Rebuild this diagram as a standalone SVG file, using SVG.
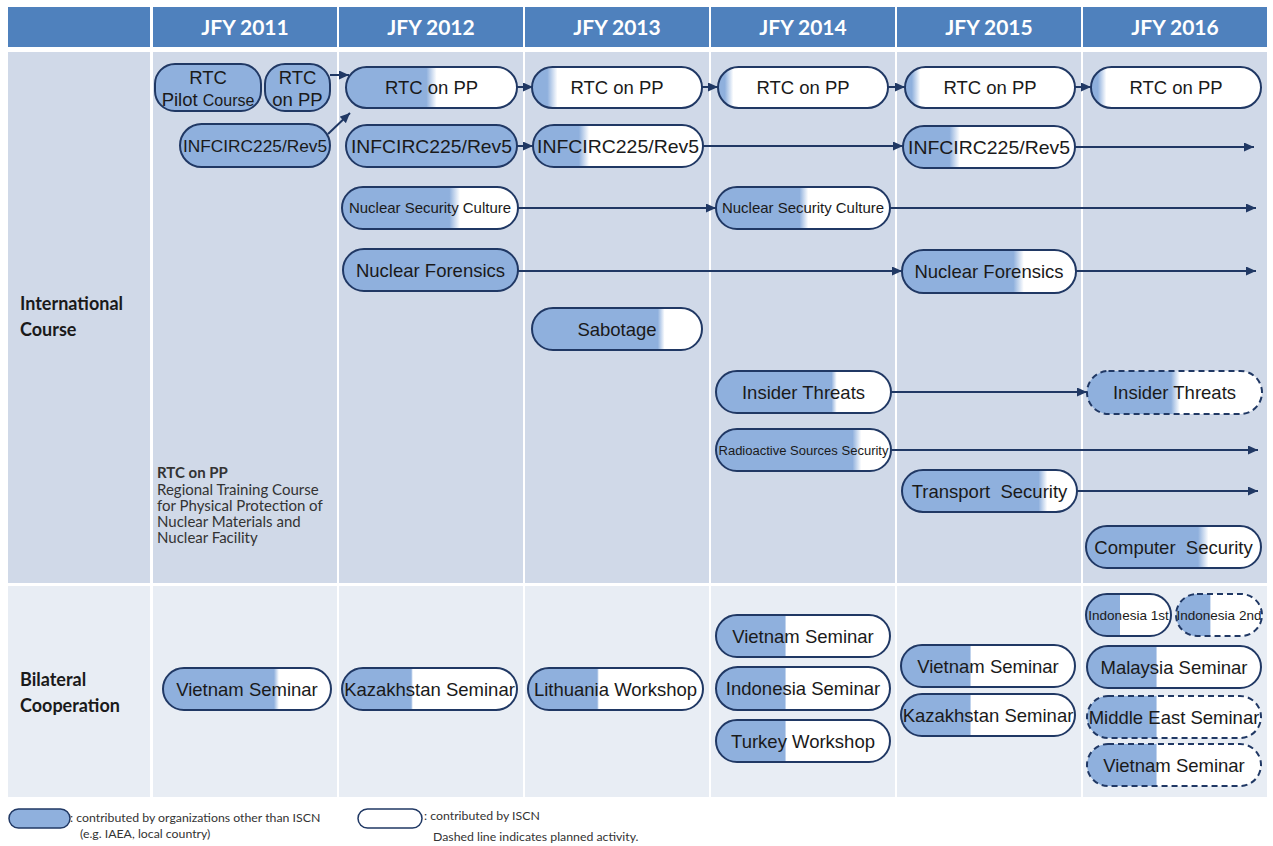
<svg xmlns="http://www.w3.org/2000/svg" width="1273" height="846" viewBox="0 0 1273 846">
<style>
.hd{fill:#4f81bd}
.ic{fill:#d0d9e8}
.bc{fill:#e8edf4}
.ht{font-family:Lato,"Liberation Sans",sans-serif;font-weight:bold;font-size:21px;fill:#fff;text-anchor:middle}
.sl{font-family:Lato,"Liberation Sans",sans-serif;font-weight:bold;font-size:18px;fill:#1a1a1a}
.n{stroke:#203864;stroke-width:2}
.d{stroke-dasharray:6 4}
.b{fill:#8fb0dd}
.t{font-family:"Liberation Sans",Arial,sans-serif;font-size:18.5px;fill:#1a1a1a;text-anchor:middle}
.s{font-size:14.5px}
.xs{font-size:12.5px}
.m{font-size:13.5px}
.c{stroke:#203864;stroke-width:2;fill:none;marker-end:url(#ah)}
.lg{font-family:Lato,"Liberation Sans",sans-serif;font-size:15px;fill:#333}
.lb{font-family:Lato,"Liberation Sans",sans-serif;font-size:12.3px;fill:#333}
</style>
<defs>
<marker id="ah" markerUnits="userSpaceOnUse" markerWidth="11" markerHeight="9" refX="10" refY="4.5" orient="auto">
<path d="M0,0 L10,4.5 L0,9 z" fill="#203864"/>
</marker>
<linearGradient id="g49"><stop offset="0.47" stop-color="#8fb0dd"/><stop offset="0.53" stop-color="#fff"/></linearGradient>
<linearGradient id="g11"><stop offset="0.09" stop-color="#8fb0dd"/><stop offset="0.15" stop-color="#fff"/></linearGradient>
<linearGradient id="g06"><stop offset="0.04" stop-color="#8fb0dd"/><stop offset="0.09" stop-color="#fff"/></linearGradient>
<linearGradient id="g30"><stop offset="0.27" stop-color="#8fb0dd"/><stop offset="0.33" stop-color="#fff"/></linearGradient>
<linearGradient id="g64"><stop offset="0.61" stop-color="#8fb0dd"/><stop offset="0.67" stop-color="#fff"/></linearGradient>
<linearGradient id="g50"><stop offset="0.48" stop-color="#8fb0dd"/><stop offset="0.53" stop-color="#fff"/></linearGradient>
<linearGradient id="g68"><stop offset="0.64" stop-color="#8fb0dd"/><stop offset="0.70" stop-color="#fff"/></linearGradient>
<linearGradient id="g76"><stop offset="0.74" stop-color="#8fb0dd"/><stop offset="0.78" stop-color="#fff"/></linearGradient>
<linearGradient id="g81"><stop offset="0.78" stop-color="#8fb0dd"/><stop offset="0.83" stop-color="#fff"/></linearGradient>
<linearGradient id="g68b"><stop offset="0.66" stop-color="#8fb0dd"/><stop offset="0.69" stop-color="#fff"/></linearGradient>
<linearGradient id="g40"><stop offset="0.395" stop-color="#8fb0dd"/><stop offset="0.405" stop-color="#fff"/></linearGradient>
</defs>

<g id="header">
<rect class="hd" x="8" y="7" width="142" height="40"/>
<rect class="hd" x="153" y="7" width="184" height="40"/>
<rect class="hd" x="339" y="7" width="184" height="40"/>
<rect class="hd" x="525" y="7" width="184" height="40"/>
<rect class="hd" x="711" y="7" width="184" height="40"/>
<rect class="hd" x="897" y="7" width="184" height="40"/>
<rect class="hd" x="1083" y="7" width="184" height="40"/>
<text class="ht" x="245" y="35">JFY 2011</text>
<text class="ht" x="431" y="35">JFY 2012</text>
<text class="ht" x="617" y="35">JFY 2013</text>
<text class="ht" x="803" y="35">JFY 2014</text>
<text class="ht" x="989" y="35">JFY 2015</text>
<text class="ht" x="1175" y="35">JFY 2016</text>
</g>

<g id="sections">
<rect class="ic" x="8" y="52" width="142" height="531"/>
<rect class="ic" x="153" y="52" width="184" height="531"/>
<rect class="ic" x="339" y="52" width="184" height="531"/>
<rect class="ic" x="525" y="52" width="184" height="531"/>
<rect class="ic" x="711" y="52" width="184" height="531"/>
<rect class="ic" x="897" y="52" width="184" height="531"/>
<rect class="ic" x="1083" y="52" width="184" height="531"/>
<rect class="bc" x="8" y="586" width="142" height="211"/>
<rect class="bc" x="153" y="586" width="184" height="211"/>
<rect class="bc" x="339" y="586" width="184" height="211"/>
<rect class="bc" x="525" y="586" width="184" height="211"/>
<rect class="bc" x="711" y="586" width="184" height="211"/>
<rect class="bc" x="897" y="586" width="184" height="211"/>
<rect class="bc" x="1083" y="586" width="184" height="211"/>
<text class="sl" x="20" y="310">International</text>
<text class="sl" x="20" y="336">Course</text>
<text class="sl" x="20" y="686">Bilateral</text>
<text class="sl" x="20" y="712">Cooperation</text>
</g>

<g id="note">
<text class="lg" x="157" y="478" font-weight="bold" fill="#1a1a1a">RTC on PP</text>
<text class="lg" x="157" y="495">Regional Training Course</text>
<text class="lg" x="157" y="511">for Physical Protection of</text>
<text class="lg" x="157" y="527">Nuclear Materials and</text>
<text class="lg" x="157" y="543">Nuclear Facility</text>
</g>

<g id="connectors">
<path class="c" d="M330,75 L349,75"/>
<path class="c" d="M328,134 L350,113"/>
<path class="c" d="M517,87 L533,87"/>
<path class="c" d="M702,87 L718,87"/>
<path class="c" d="M888,87 L905,87"/>
<path class="c" d="M1075,87 L1091,87"/>
<path class="c" d="M517,146 L533,146"/>
<path class="c" d="M703,146 L903,146"/>
<path class="c" d="M1075,147 L1254,147"/>
<path class="c" d="M518,208 L716,208"/>
<path class="c" d="M890,208 L1256,208"/>
<path class="c" d="M518,271 L902,271"/>
<path class="c" d="M1076,271 L1256,271"/>
<path class="c" d="M891,392 L1087,392"/>
<path class="c" d="M891,450 L1258,450"/>
<path class="c" d="M1077,491 L1258,491"/>
</g>

<g id="n-pilot"><rect class="n b" x="155" y="64" width="106" height="47" rx="20"/>
<text class="t" x="208" y="84">RTC</text><text class="t" x="208" y="106">Pilot <tspan style="font-size:16px">Course</tspan></text></g>
<g id="n-rtc2011"><rect class="n b" x="265" y="64" width="65" height="47" rx="20"/>
<text class="t" x="297.5" y="84">RTC</text><text class="t" x="297.5" y="106">on PP</text></g>
<g id="n-inf2011"><rect class="n b" x="180" y="124" width="150" height="43" rx="21.5"/>
<text class="t" x="255" y="152" style="font-size:17.3px">INFCIRC225/Rev5</text></g>

<g id="n-rtc2012"><rect class="n" fill="url(#g49)" x="346" y="67" width="171" height="41" rx="20.5"/><text class="t" x="431.5" y="94">RTC on PP</text></g>
<g id="n-rtc2013"><rect class="n" fill="url(#g11)" x="532" y="67" width="170" height="41" rx="20.5"/><text class="t" x="617" y="94">RTC on PP</text></g>
<g id="n-rtc2014"><rect class="n" fill="url(#g06)" x="718" y="67" width="170" height="41" rx="20.5"/><text class="t" x="803" y="94">RTC on PP</text></g>
<g id="n-rtc2015"><rect class="n" fill="url(#g06)" x="905" y="67" width="170" height="41" rx="20.5"/><text class="t" x="990" y="94">RTC on PP</text></g>
<g id="n-rtc2016"><rect class="n" fill="url(#g06)" x="1091" y="67" width="170" height="41" rx="20.5"/><text class="t" x="1176" y="94">RTC on PP</text></g>

<g id="n-inf2012"><rect class="n b" x="346" y="125" width="171" height="42" rx="21"/><text class="t" x="431.5" y="153" textLength="161" lengthAdjust="spacingAndGlyphs">INFCIRC225/Rev5</text></g>
<g id="n-inf2013"><rect class="n" fill="url(#g30)" x="533" y="125" width="170" height="42" rx="21"/><text class="t" x="618" y="153" textLength="162" lengthAdjust="spacingAndGlyphs">INFCIRC225/Rev5</text></g>
<g id="n-inf2015"><rect class="n" fill="url(#g30)" x="903" y="126" width="172" height="42" rx="21"/><text class="t" x="989" y="154" textLength="162" lengthAdjust="spacingAndGlyphs">INFCIRC225/Rev5</text></g>

<g id="n-nsc2012"><rect class="n" fill="url(#g64)" x="342" y="187" width="176" height="42" rx="21"/><text class="t s" x="430" y="213" textLength="162" lengthAdjust="spacingAndGlyphs">Nuclear Security Culture</text></g>
<g id="n-nsc2014"><rect class="n" fill="url(#g50)" x="716" y="187" width="174" height="42" rx="21"/><text class="t s" x="803" y="213" textLength="162" lengthAdjust="spacingAndGlyphs">Nuclear Security Culture</text></g>

<g id="n-nf2012"><rect class="n b" x="343" y="249" width="175" height="42" rx="21"/><text class="t" x="430.5" y="277">Nuclear Forensics</text></g>
<g id="n-nf2015"><rect class="n" fill="url(#g68)" x="902" y="250" width="174" height="43" rx="21.5"/><text class="t" x="989" y="278">Nuclear Forensics</text></g>

<g id="n-sabotage"><rect class="n" fill="url(#g76)" x="532" y="308" width="170" height="42" rx="21"/><text class="t" x="617" y="336">Sabotage</text></g>

<g id="n-it2014"><rect class="n" fill="url(#g68b)" x="716" y="371" width="175" height="42" rx="21"/><text class="t" x="803.5" y="399">Insider Threats</text></g>
<g id="n-it2016"><rect class="n d" fill="url(#g50)" x="1087" y="371" width="175" height="43" rx="21.5"/><text class="t" x="1174.5" y="399">Insider Threats</text></g>

<g id="n-rss"><rect class="n" fill="url(#g81)" x="716" y="429" width="175" height="42" rx="21"/><text class="t xs" x="803.5" y="454.5" textLength="170" lengthAdjust="spacingAndGlyphs">Radioactive Sources Security</text></g>
<g id="n-ts"><rect class="n" fill="url(#g81)" x="902" y="470" width="175" height="42" rx="21"/><text class="t" x="989.5" y="498" style="white-space:pre">Transport  Security</text></g>
<g id="n-cs"><rect class="n" fill="url(#g68)" x="1086" y="526" width="175" height="42" rx="21"/><text class="t" x="1173.5" y="554" style="white-space:pre">Computer  Security</text></g>

<g id="n-vs2011"><rect class="n" fill="url(#g68b)" x="163" y="668" width="168" height="42" rx="21"/><text class="t" x="247" y="696">Vietnam Seminar</text></g>
<g id="n-ks2012"><rect class="n" fill="url(#g40)" x="342" y="668" width="175" height="42" rx="21"/><text class="t" x="429.5" y="696">Kazakhstan Seminar</text></g>
<g id="n-lw2013"><rect class="n" fill="url(#g40)" x="528" y="668" width="175" height="42" rx="21"/><text class="t" x="615.5" y="696">Lithuania Workshop</text></g>
<g id="n-vs2014"><rect class="n" fill="url(#g40)" x="716" y="615" width="174" height="42" rx="21"/><text class="t" x="803" y="643">Vietnam Seminar</text></g>
<g id="n-is2014"><rect class="n" fill="url(#g40)" x="716" y="667" width="174" height="43" rx="21.5"/><text class="t" x="803" y="695">Indonesia Seminar</text></g>
<g id="n-tw2014"><rect class="n" fill="url(#g40)" x="716" y="720" width="174" height="42" rx="21"/><text class="t" x="803" y="748">Turkey Workshop</text></g>
<g id="n-vs2015"><rect class="n" fill="url(#g40)" x="901" y="645" width="174" height="42" rx="21"/><text class="t" x="988" y="673">Vietnam Seminar</text></g>
<g id="n-ks2015"><rect class="n" fill="url(#g40)" x="901" y="694" width="174" height="42" rx="21"/><text class="t" x="988" y="722">Kazakhstan Seminar</text></g>
<g id="n-indo1"><rect class="n" fill="url(#g40)" x="1086" y="594" width="85" height="42" rx="21"/><text class="t m" x="1128.5" y="620">Indonesia 1st</text></g>
<g id="n-indo2"><rect class="n d" fill="url(#g40)" x="1176" y="594" width="86" height="42" rx="21"/><text class="t m" x="1219" y="620">Indonesia 2nd</text></g>
<g id="n-ms"><rect class="n" fill="url(#g40)" x="1087" y="646" width="174" height="42" rx="21"/><text class="t" x="1174" y="674">Malaysia Seminar</text></g>
<g id="n-me"><rect class="n d" fill="url(#g40)" x="1087" y="696" width="174" height="42" rx="21"/><text class="t" x="1174" y="724">Middle East Seminar</text></g>
<g id="n-vs2016"><rect class="n d" fill="url(#g40)" x="1087" y="744" width="174" height="42" rx="21"/><text class="t" x="1174" y="772">Vietnam Seminar</text></g>

<g id="legend">
<rect x="9" y="809" width="61" height="19" rx="9.5" fill="#8fb0dd" stroke="#203864" stroke-width="1.5"/>
<text class="lb" x="70" y="822">: contributed by organizations other than ISCN</text>
<text class="lb" x="80" y="838">(e.g. IAEA, local country)</text>
<rect x="358" y="809" width="64" height="19" rx="9.5" fill="#fff" stroke="#203864" stroke-width="1.5"/>
<text class="lb" x="424" y="820">: contributed by ISCN</text>
<text class="lb" x="433" y="841">Dashed line indicates planned activity.</text>
</g>
</svg>
